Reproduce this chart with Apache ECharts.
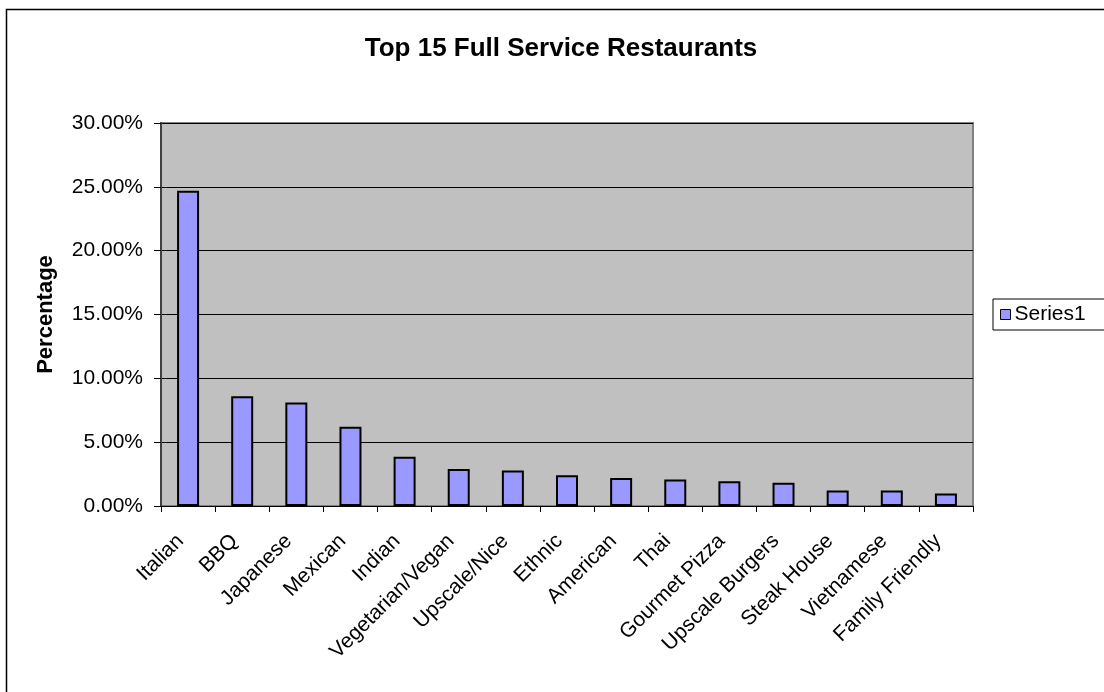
<!DOCTYPE html>
<html>
<head>
<meta charset="utf-8">
<title>Top 15 Full Service Restaurants</title>
<script src="https://cdn.jsdelivr.net/npm/echarts@6/dist/echarts.min.js"></script>
<style>
  html, body { margin: 0; padding: 0; background: #fff; }
  #chart { width: 1104px; height: 692px; }
</style>
</head>
<body>
<div id="chart"></div>
<script>
// Restaurant types, in ranked order
const categories = [
  'Italian', 'BBQ', 'Japanese', 'Mexican', 'Indian', 'Vegetarian/Vegan',
  'Upscale/Nice', 'Ethnic', 'American', 'Thai', 'Gourmet Pizza',
  'Upscale Burgers', 'Steak House', 'Vietnamese', 'Family Friendly'
];
// Share of responses, in percent
const series1 = [24.7, 8.6, 8.1, 6.2, 3.85, 2.9, 2.78, 2.41, 2.2, 2.07, 1.94, 1.82, 1.21, 1.21, 0.98];
// Value axis range and step, in percent
const yMin = 0, yMax = 30, yStep = 5;

const FONT = '"Liberation Sans", Arial, sans-serif';
const chart = echarts.init(document.getElementById('chart'), null, { renderer: 'canvas' });

chart.setOption({
  backgroundColor: '#ffffff',
  animation: false,
  title: {
    text: 'Top 15 Full Service Restaurants',
    left: 556, top: 31, textAlign: 'center',
    textStyle: { fontFamily: FONT, fontWeight: 'bold', fontSize: 26, color: '#000' }
  },
  graphic: [{
    type: 'rect', silent: true, z: -1,
    shape: { x: 6.5, y: 9.5, width: 1200, height: 800 },
    style: { fill: 'none', stroke: '#000', lineWidth: 1.5 }
  }],
  legend: {
    left: 993, top: 299,
    orient: 'vertical',
    padding: [5, 40, 5, 7],
    borderColor: '#000', borderWidth: 1,
    backgroundColor: '#fff',
    itemWidth: 10, itemHeight: 10, itemGap: 4,
    icon: 'rect',
    itemStyle: { borderColor: '#000', borderWidth: 1 },
    textStyle: { fontFamily: FONT, fontSize: 21, color: '#000', padding: [0, 0, 0, -1] },
    data: ['Series1']
  },
  grid: {
    left: 161, right: 131, top: 123, bottom: 186,
    show: true, backgroundColor: '#c0c0c0', borderColor: '#808080', borderWidth: 2
  },
  xAxis: {
    type: 'category',
    data: categories,
    boundaryGap: true,
    axisLine: { show: true, lineStyle: { color: '#000', width: 1 } },
    axisTick: { show: true, interval: 0, length: 6, lineStyle: { color: '#000' } },
    axisLabel: {
      interval: 0, rotate: 45, margin: 24,
      padding: [0, 11, 0, 0],
      fontFamily: FONT, fontSize: 21, color: '#000'
    },
    splitLine: { show: false }
  },
  yAxis: {
    type: 'value',
    min: yMin, max: yMax, interval: yStep,
    name: 'Percentage',
    nameLocation: 'middle', nameGap: 104, nameRotate: 90,
    nameTextStyle: { fontFamily: FONT, fontWeight: 'bold', fontSize: 22, color: '#000' },
    axisLine: { show: true, lineStyle: { color: '#404040', width: 2 } },
    axisTick: { show: true, length: 7, lineStyle: { color: '#000' } },
    axisLabel: {
      margin: 18,
      fontFamily: FONT, fontSize: 21, color: '#000',
      formatter: v => v.toFixed(2) + '%'
    },
    splitLine: { show: true, lineStyle: { color: '#000', width: 1 } }
  },
  series: [{
    name: 'Series1',
    type: 'bar',
    data: series1,
    barWidth: 22,
    itemStyle: { color: '#9999ff', borderColor: '#000', borderWidth: 2 }
  }]
});
</script>
</body>
</html>
